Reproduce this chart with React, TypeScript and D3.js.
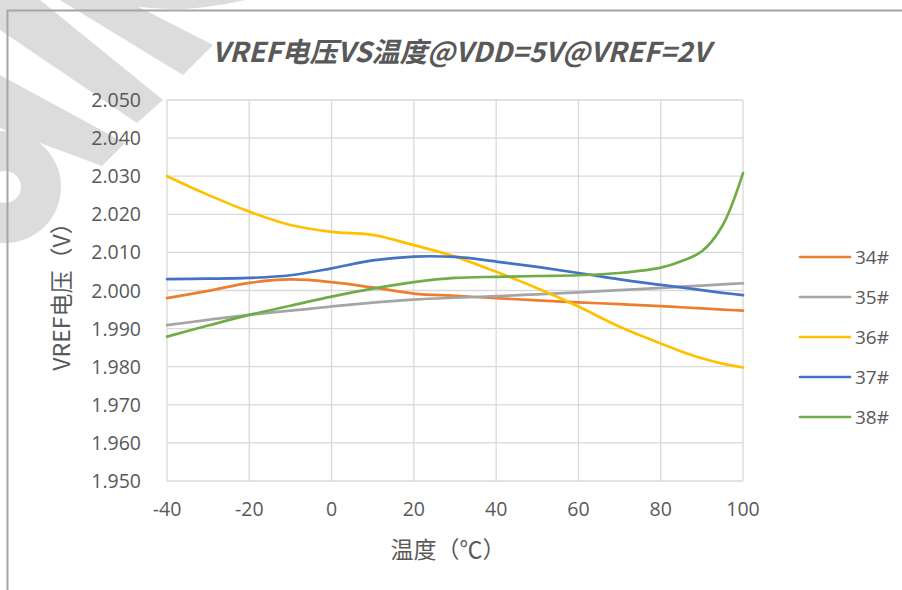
import React from "react";
import * as d3 from "d3";

const title = "VREF电压VS温度@VDD=5V@VREF=2V";
const xTitle = "温度（℃）";
const yTitle = "VREF电压（V）";

const temps = [-40, -30, -20, -10, 0, 10, 20, 30, 40, 50, 60, 70, 80, 85, 90, 95, 100];
const s34 = [1.998, 1.9999, 2.002, 2.0029, 2.0022, 2.0008, 1.9992, 1.9986, 1.998, 1.9974, 1.9969, 1.9964, 1.9959, 1.9956, 1.9953, 1.995, 1.9947];
const s35 = [1.9909, 1.9923, 1.9936, 1.9947, 1.9958, 1.9968, 1.9976, 1.9981, 1.9985, 1.999, 1.9995, 2.0001, 2.0007, 2.001, 2.0013, 2.0016, 2.0019];
const s36 = [2.03, 2.0251, 2.0207, 2.0172, 2.0154, 2.0146, 2.0119, 2.0089, 2.0049, 2.0006, 1.9958, 1.9905, 1.9861, 1.984, 1.9822, 1.9808, 1.9798];
const s37 = [2.003, 2.0031, 2.0033, 2.004, 2.0058, 2.0079, 2.0089, 2.0088, 2.0076, 2.0062, 2.0046, 2.0029, 2.0015, 2.0008, 2.0001, 1.9994, 1.9988];
const s38 = [1.9879, 1.9908, 1.9936, 1.996, 1.9984, 2.0005, 2.0022, 2.0033, 2.0036, 2.0038, 2.004, 2.0046, 2.006, 2.0077, 2.0103, 2.017, 2.0308];

const seriesNames = ["34#", "35#", "36#", "37#", "38#"];
const seriesValues = [s34, s35, s36, s37, s38];
const colors = ["#ED7D31", "#A5A5A5", "#FFC000", "#4472C4", "#70AD47"];

const xTicks = [-40, -20, 0, 20, 40, 60, 80, 100];
const yTicks = [1.95, 1.96, 1.97, 1.98, 1.99, 2.0, 2.01, 2.02, 2.03, 2.04, 2.05];

const W = 902;
const H = 590;
const FONT = "'Open Sans', 'Noto Sans CJK SC', sans-serif";
const CJK = "'Noto Sans CJK SC', sans-serif";
const TEXT = "#595959";

export default function App() {
  const x = d3.scaleLinear().domain([-40, 100]).range([167, 743]);
  const y = d3.scaleLinear().domain([1.95, 2.05]).range([481, 100]);
  const line = d3
    .line<[number, number]>()
    .x((d) => x(d[0]))
    .y((d) => y(d[1]))
    .curve(d3.curveCatmullRom.alpha(0.5));

  const arc = d3.arc();
  const ring = arc({ innerRadius: 16, outerRadius: 56, startAngle: 0, endAngle: 2 * Math.PI }) || "";

  return (
    <svg
      width={W}
      height={H}
      style={{ position: "absolute", left: 0, top: 0, background: "#fff" }}
    >
      <rect x={0} y={0} width={W} height={H} fill="#fff" />
      {/* watermark */}
      <g fill="#dcdcdc">
        <polygon points="60,0 125,0 213,45 183,75" />
        <polygon points="0,0 40,0 163,100 137,123 0,30" />
        <polygon points="0,75 125,143 102,166 0,128" />
        <path d={ring} transform="translate(5,187)" />
        <path d="M97,0 L245,0 Q200,10 170,9 Q130,8 97,0 Z" />
      </g>
      <rect x={7.5} y={10.5} width={1000} height={1000} fill="none" stroke="#a6a6a6" strokeWidth={2} />

      {/* grid */}
      <g stroke="#d9d9d9" strokeWidth={1.3}>
        {yTicks.map((t) => (
          <line key={"h" + t} x1={167} x2={743} y1={y(t)} y2={y(t)} />
        ))}
        {xTicks.map((t) => (
          <line key={"v" + t} x1={x(t)} x2={x(t)} y1={100} y2={481} />
        ))}
      </g>

      {/* y tick labels */}
      <g fill={TEXT} fontFamily={FONT} fontSize={19.5} textAnchor="end">
        {yTicks.map((t) => (
          <text key={"yl" + t} x={141} y={y(t)} dy="0.36em">
            {d3.format(".3f")(t)}
          </text>
        ))}
      </g>
      {/* x tick labels */}
      <g fill={TEXT} fontFamily={FONT} fontSize={19.5} textAnchor="middle">
        {xTicks.map((t) => (
          <text key={"xl" + t} x={x(t)} y={516}>
            {t}
          </text>
        ))}
      </g>

      {/* series */}
      {seriesValues.map((vals, i) => (
        <path
          key={seriesNames[i]}
          d={line(temps.map((t, j) => [t, vals[j]] as [number, number])) || ""}
          fill="none"
          stroke={colors[i]}
          strokeWidth={2.7}
          strokeLinecap="round"
        />
      ))}

      {/* title */}
      <text
        x={461}
        y={62}
        textAnchor="middle"
        fill={TEXT}
        fontFamily={CJK}
        fontSize={27.5}
        fontWeight="bold"
        fontStyle="italic"
        textLength={498}
        lengthAdjust="spacingAndGlyphs"
      >
        {title}
      </text>

      {/* axis titles */}
      <text x={448} y={558} textAnchor="middle" fill={TEXT} fontFamily={CJK} fontSize={23}>
        {xTitle}
      </text>
      <text
        transform="translate(70,291) rotate(-90)"
        textAnchor="middle"
        fill={TEXT}
        fontFamily={CJK}
        fontSize={23}
      >
        {yTitle}
      </text>

      {/* legend */}
      {seriesNames.map((n, i) => {
        const ly = 257 + i * 40;
        return (
          <g key={"lg" + n}>
            <line x1={800} x2={850} y1={ly} y2={ly} stroke={colors[i]} strokeWidth={2.7} strokeLinecap="round" />
            <text x={855} y={ly} dy="0.36em" fill={TEXT} fontFamily={FONT} fontSize={19}>
              {n}
            </text>
          </g>
        );
      })}
    </svg>
  );
}
